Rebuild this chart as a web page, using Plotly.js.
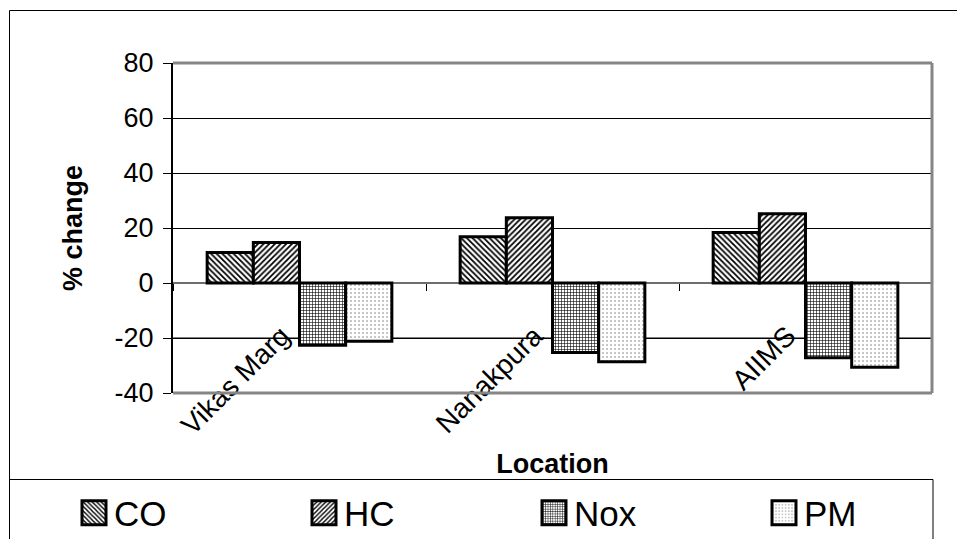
<!DOCTYPE html>
<html>
<head>
<meta charset="utf-8">
<script src="https://cdn.plot.ly/plotly-3.0.1.min.js"></script>
<style>
  html, body { margin: 0; padding: 0; background: #fff; }
  #chart { width: 957px; height: 539px; }
</style>
</head>
<body>
<div id="chart"></div>
<script>
// Percentage change in emissions at each monitoring location
const locations = ['Vikas Marg', 'Nanakpura', 'AIIMS'];
const coChange  = [11.1, 16.8, 18.4];
const hcChange  = [14.7, 23.7, 25.2];
const noxChange = [-22.6, -25.3, -27.2];
const pmChange  = [-21.2, -28.6, -30.6];
const seriesNames = ['CO', 'HC', 'Nox', 'PM'];
const yTickValues = [-40, -20, 0, 20, 40, 60, 80];

// page geometry: wide margin box, plot area placed through axis domains
const W = 957, H = 539;
const M = { l: 5, r: 0, t: 63, b: 146, autoexpand: false };
const GW = W - M.l - M.r, GH = H - M.t - M.b;
const px = p => (p - M.l) / GW;          // pixel x -> paper x
const py = p => (H - M.b - p) / GH;      // pixel y -> paper y
const plotLeft = 173, plotRight = 932;
const xDom = [px(plotLeft), px(plotRight)];

const yRange = [-40, 80];
const zeroPos = (0 - yRange[0]) / (yRange[1] - yRange[0]);

const FONT = 'Liberation Sans, Arial, sans-serif';

// hatch styles per series
const patterns = [
  { shape: '\\', size: 4, solidity: 0.45, fgcolor: '#000', bgcolor: '#fff' },
  { shape: '/',  size: 4, solidity: 0.45, fgcolor: '#000', bgcolor: '#fff' },
  { shape: '+',  size: 3, solidity: 0.35, fgcolor: '#000', bgcolor: '#fff' },
  { shape: '.',  size: 4, solidity: 0.12, fgcolor: '#777', bgcolor: '#fff' }
];
const values = [coChange, hcChange, noxChange, pmChange];

const traces = seriesNames.map((name, i) => ({
  type: 'bar',
  name: name,
  x: locations,
  y: values[i],
  marker: {
    color: '#fff',
    line: { color: '#000', width: 3 },
    pattern: patterns[i]
  },
  hoverinfo: 'skip'
}));

const frameLine = { color: '#868686', width: 3 };

const layout = {
  width: W, height: H,
  margin: M,
  paper_bgcolor: '#fff',
  plot_bgcolor: '#fff',
  font: { family: FONT, color: '#000' },
  barmode: 'group',
  bargap: 0.27,
  bargroupgap: 0,
  showlegend: true,
  xaxis: {
    type: 'category',
    domain: xDom,
    anchor: 'free',
    position: zeroPos,
    automargin: false,
    showline: false,
    showgrid: false,
    zeroline: false,
    ticks: 'outside',
    tickson: 'boundaries',
    ticklen: 7,
    tickwidth: 1,
    tickcolor: '#000',
    tickangle: -45,
    ticklabelstandoff: 30,
    ticklabelshift: -18,
    tickfont: { family: FONT, size: 28, color: '#000' },
    title: { text: 'Location', font: { family: FONT, size: 27, weight: 700, color: '#000' }, standoff: 14 }
  },
  yaxis: {
    range: yRange,
    anchor: 'x',
    automargin: false,
    tickvals: yTickValues,
    ticktext: yTickValues.map(String),
    showline: true,
    linecolor: '#000',
    linewidth: 2,
    ticks: 'outside',
    ticklen: 8,
    tickwidth: 1,
    tickcolor: '#000',
    ticklabelstandoff: 4,
    showgrid: true,
    gridcolor: '#000',
    gridwidth: 1,
    zeroline: true,
    zerolinecolor: '#6e6e6e',
    zerolinewidth: 2,
    tickfont: { family: FONT, size: 27, color: '#000' },
    title: { text: '% change', font: { family: FONT, size: 27, weight: 700, color: '#000' }, standoff: 24 }
  },
  legend: {
    orientation: 'h',
    x: px(74), xanchor: 'left',
    y: py(513), yanchor: 'middle',
    entrywidth: 185,
    entrywidthmode: 'pixels',
    font: { family: FONT, size: 35, color: '#000' },
    bgcolor: 'rgba(0,0,0,0)',
    borderwidth: 0,
    traceorder: 'normal'
  },
  shapes: [
    // outer chart border
    { type: 'rect', xref: 'paper', yref: 'paper', x0: px(9.5), x1: px(970), y0: py(560), y1: py(10.5),
      line: { color: '#000', width: 1 }, layer: 'below' },
    // legend box
    { type: 'rect', xref: 'paper', yref: 'paper', x0: px(9.5), x1: px(933), y0: py(560), y1: py(479.5),
      line: { color: '#000', width: 1 }, layer: 'below' },
    // lighter gridline below zero
    { type: 'line', xref: 'paper', yref: 'y', x0: xDom[0], x1: xDom[1], y0: -20, y1: -20,
      line: { color: '#808080', width: 2 }, layer: 'between' },
    // plot frame: top, right, bottom
    { type: 'line', xref: 'paper', yref: 'paper', x0: xDom[0], x1: xDom[1], y0: 1, y1: 1, line: frameLine, layer: 'above' },
    { type: 'line', xref: 'paper', yref: 'paper', x0: xDom[1], x1: xDom[1], y0: 0, y1: 1, line: frameLine, layer: 'above' },
    { type: 'line', xref: 'paper', yref: 'paper', x0: xDom[0], x1: xDom[1], y0: 0, y1: 0, line: frameLine, layer: 'above' }
  ]
};

function enlargeSwatches(gd) {
  gd.querySelectorAll('.legend .legendpoints path').forEach(p => {
    p.setAttribute('d', 'M12,12H-12V-12H12Z');
    p.style.strokeWidth = '3px';
  });
}

const gd = document.getElementById('chart');
Plotly.newPlot(gd, traces, layout, { staticPlot: true, displayModeBar: false })
  .then(() => enlargeSwatches(gd))
  .catch(() => enlargeSwatches(gd));
</script>
</body>
</html>
